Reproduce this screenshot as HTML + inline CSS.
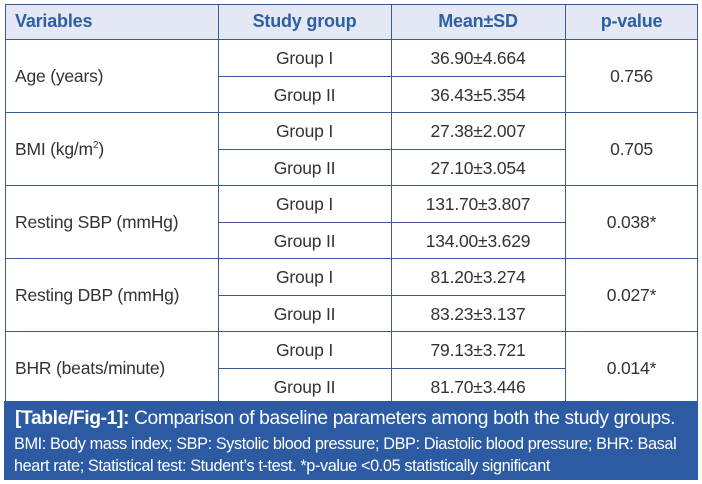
<!DOCTYPE html>
<html><head><style>
body{margin:0;width:702px;height:484px;background:#fff;position:relative;overflow:hidden;font-family:"Liberation Sans",sans-serif;}
.a{position:absolute;}
.h{background:#3a5a92;}
.t{position:absolute;font-size:17.5px;color:#333;white-space:nowrap;letter-spacing:-0.2px;}
.c{text-align:center;}
.hd{color:#2e5fa3;font-weight:bold;font-size:18px;}
</style></head><body>
<div class="a" style="left:5px;top:4px;width:693px;height:35px;background:#e3e8f4"></div>
<div class="a h" style="left:5px;top:4px;width:693px;height:1px"></div>
<div class="a h" style="left:5px;top:39px;width:693px;height:1px"></div>
<div class="a h" style="left:5px;top:112px;width:693px;height:1px"></div>
<div class="a h" style="left:5px;top:185px;width:693px;height:1px"></div>
<div class="a h" style="left:5px;top:258px;width:693px;height:1px"></div>
<div class="a h" style="left:5px;top:331px;width:693px;height:1px"></div>
<div class="a h" style="left:218px;top:76px;width:348px;height:1px"></div>
<div class="a h" style="left:218px;top:149px;width:348px;height:1px"></div>
<div class="a h" style="left:218px;top:222px;width:348px;height:1px"></div>
<div class="a h" style="left:218px;top:295px;width:348px;height:1px"></div>
<div class="a h" style="left:218px;top:368px;width:348px;height:1px"></div>
<div class="a h" style="left:5px;top:4px;width:1px;height:398px"></div>
<div class="a h" style="left:218px;top:4px;width:1px;height:398px"></div>
<div class="a h" style="left:391px;top:4px;width:1px;height:398px"></div>
<div class="a h" style="left:565px;top:4px;width:1px;height:398px"></div>
<div class="a h" style="left:697px;top:4px;width:1px;height:398px"></div>
<div class="t hd" style="left:15px;top:11px">Variables</div>
<div class="t hd c" style="left:218px;width:173px;top:11px">Study group</div>
<div class="t hd c" style="left:391px;width:174px;top:11px">Mean±SD</div>
<div class="t hd c" style="left:565px;width:133px;top:11px">p-value</div>

<div class="t" style="left:15px;top:66px">Age (years)</div>
<div class="t" style="left:15px;top:139px">BMI (kg/m<sup style="font-size:10px">2</sup>)</div>
<div class="t" style="left:15px;top:212px">Resting SBP (mmHg)</div>
<div class="t" style="left:15px;top:285px">Resting DBP (mmHg)</div>
<div class="t" style="left:15px;top:358px">BHR (beats/minute)</div>

<div class="t c" style="left:565px;width:133px;top:66px">0.756</div>
<div class="t c" style="left:565px;width:133px;top:139px">0.705</div>
<div class="t c" style="left:565px;width:133px;top:212px">0.038*</div>
<div class="t c" style="left:565px;width:133px;top:285px">0.027*</div>
<div class="t c" style="left:565px;width:133px;top:358px">0.014*</div>

<div class="t c" style="left:218px;width:173px;top:48px">Group I</div>
<div class="t c" style="left:218px;width:173px;top:85px">Group II</div>
<div class="t c" style="left:218px;width:173px;top:121px">Group I</div>
<div class="t c" style="left:218px;width:173px;top:158px">Group II</div>
<div class="t c" style="left:218px;width:173px;top:194px">Group I</div>
<div class="t c" style="left:218px;width:173px;top:231px">Group II</div>
<div class="t c" style="left:218px;width:173px;top:267px">Group I</div>
<div class="t c" style="left:218px;width:173px;top:304px">Group II</div>
<div class="t c" style="left:218px;width:173px;top:340px">Group I</div>
<div class="t c" style="left:218px;width:173px;top:377px">Group II</div>

<div class="t c" style="left:391px;width:174px;top:48px">36.90±4.664</div>
<div class="t c" style="left:391px;width:174px;top:85px">36.43±5.354</div>
<div class="t c" style="left:391px;width:174px;top:121px">27.38±2.007</div>
<div class="t c" style="left:391px;width:174px;top:158px">27.10±3.054</div>
<div class="t c" style="left:391px;width:174px;top:194px">131.70±3.807</div>
<div class="t c" style="left:391px;width:174px;top:231px">134.00±3.629</div>
<div class="t c" style="left:391px;width:174px;top:267px">81.20±3.274</div>
<div class="t c" style="left:391px;width:174px;top:304px">83.23±3.137</div>
<div class="t c" style="left:391px;width:174px;top:340px">79.13±3.721</div>
<div class="t c" style="left:391px;width:174px;top:377px">81.70±3.446</div>

<div class="a" style="left:4px;top:401px;width:694px;height:79px;background:#2d5ba3;color:#fff">
 <div style="position:absolute;left:11px;top:7px;font-size:19.3px;white-space:nowrap;letter-spacing:-0.4px"><b>[Table/Fig-1]:</b> Comparison of baseline parameters among both the study groups.</div>
 <div style="position:absolute;left:10px;top:32px;font-size:16.3px;line-height:22px;letter-spacing:-0.4px;white-space:nowrap">BMI: Body mass index; SBP: Systolic blood pressure; DBP: Diastolic blood pressure; BHR: Basal<br>heart rate; Statistical test: Student’s t-test. *p-value &lt;0.05 statistically significant</div>
</div>
</body></html>
